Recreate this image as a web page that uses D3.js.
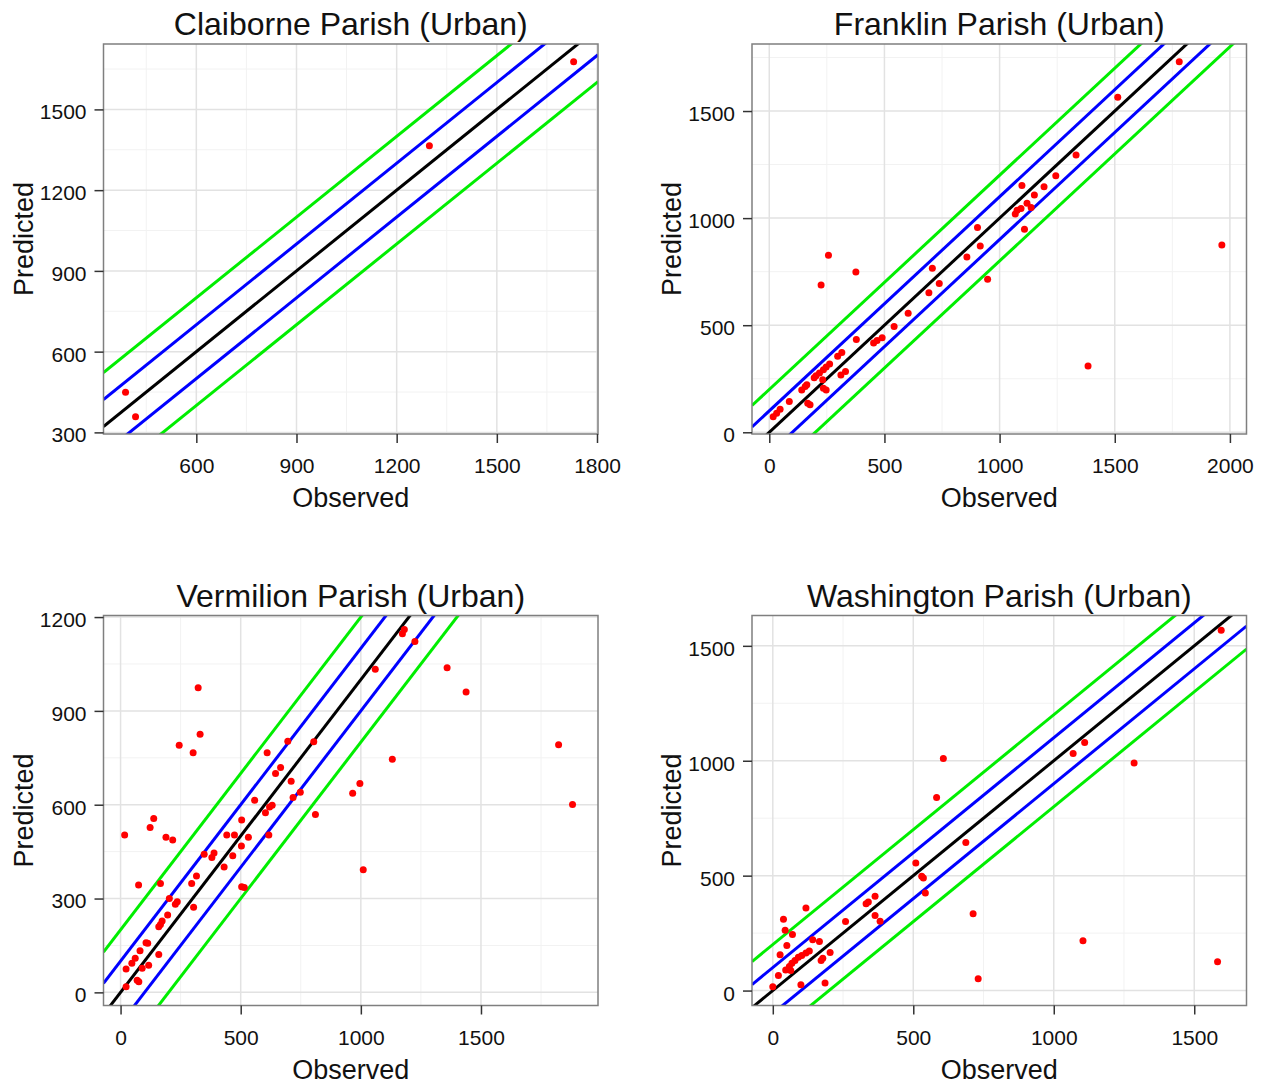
<!DOCTYPE html>
<html>
<head>
<meta charset="utf-8">
<script src="https://cdn.jsdelivr.net/npm/d3@7"></script>
<style>
  body { margin: 0; background: #fff; }
  svg text { font-family: "Liberation Sans", Arial, sans-serif; fill: #111; }
</style>
</head>
<body>
<svg id="chart" width="1268" height="1084"></svg>
<script>
// ---- Observed vs predicted values per parish ----
const claiborneObserved  = [388, 418, 1298, 1730];
const claibornePredicted = [449, 358, 1365, 1677];

const franklinObserved = [257, 225, 376, 378, 453, 468, 490, 542, 603, 693, 708, 738, 948, 858, 904, 916,
  1097, 1068, 1076, 1093, 1119, 1151, 1108, 1137, 315, 297, 311, 331, 262, 247, 235, 218, 203, 195,
  235, 247, 232, 141, 156, 163, 167, 177, 87, 47, 32, 17, 1780, 1513, 1332, 1244, 1193, 1965, 1384];
const franklinPredicted = [827, 688, 748, 433, 417, 428, 441, 494, 556, 652, 766, 695, 714, 819, 956, 870,
  1152, 1019, 1037, 1045, 1070, 1108, 948, 1050, 373, 355, 267, 284, 319, 305, 292, 277, 264, 255,
  206, 198, 245, 198, 214, 222, 136, 128, 144, 108, 89, 73, 1730, 1564, 1295, 1198, 1147, 874, 310];

const vermilionObserved = [323, 331, 244, 302, 610, 696, 804, 645, 666, 710, 748, 718, 811, 558, 603, 631,
  620, 504, 617, 532, 503, 442, 474, 389, 380, 348, 467, 431, 504, 515, 316, 296, 304, 236, 228, 203,
  196, 173, 166, 159, 166, 75, 17, 123, 138, 189, 217, 106, 113, 81, 61, 47, 23, 90, 117, 159, 69, 76, 23,
  1181, 1173, 1225, 1060, 1359, 1438, 1823, 1881, 1131, 996, 966, 1010];
const vermilionPredicted = [974, 825, 790, 766, 766, 803, 801, 700, 719, 675, 640, 623, 569, 614, 574, 598,
  593, 551, 503, 496, 468, 503, 503, 446, 431, 442, 437, 401, 338, 335, 372, 348, 272, 290, 282, 300,
  247, 228, 217, 210, 348, 343, 503, 527, 556, 496, 487, 159, 157, 133, 109, 93, 75, 77, 87, 121, 39, 34, 18,
  1160, 1147, 1122, 1033, 1038, 960, 792, 601, 745, 668, 637, 392];

const washingtonObserved = [607, 583, 687, 509, 530, 536, 543, 713, 731, 364, 340, 332, 364, 382, 259, 118,
  38, 44, 70, 50, 26, 142, 166, 204, 178, 172, 130, 118, 103, 91, 79, 68, 59, 46, 64, 20, 0, 100, 186,
  1596, 1069, 1110, 1286, 1104, 1583];
const washingtonPredicted = [1010, 840, 644, 555, 497, 490, 424, 334, 51, 410, 385, 378, 327, 302, 301, 359,
  310, 262, 244, 196, 156, 221, 214, 166, 141, 131, 172, 163, 153, 145, 131, 119, 105, 90, 87, 65, 17, 25, 33,
  1568, 1031, 1079, 990, 217, 125];

// ---- Axis limits and tick labels ----
const claiborneXLimits = [322, 1803],  claiborneYLimits = [294, 1743];
const franklinXLimits  = [-75, 2072],  franklinYLimits  = [-8, 1813];
const vermilionXLimits = [-71, 1987],  vermilionYLimits = [-42, 1205];
const washingtonXLimits = [-74, 1686], washingtonYLimits = [-65, 1632];

const claiborneXTicks  = [600, 900, 1200, 1500, 1800];
const claiborneYTicks  = [300, 600, 900, 1200, 1500];
const franklinXTicks   = [0, 500, 1000, 1500, 2000];
const franklinYTicks   = [0, 500, 1000, 1500];
const vermilionXTicks  = [0, 500, 1000, 1500];
const vermilionYTicks  = [0, 300, 600, 900, 1200];
const washingtonXTicks = [0, 500, 1000, 1500];
const washingtonYTicks = [0, 500, 1000, 1500];

// Reference lines: 1:1 line and +/-100, +/-200 bands
const bandOffsets = [-200, -100, 0, 100, 200];
const bandColors  = { "-200": "#00ee00", "-100": "#0000ff", "0": "#000000", "100": "#0000ff", "200": "#00ee00" };

const panels = [
  { title: "Claiborne Parish (Urban)", obs: claiborneObserved, pred: claibornePredicted,
    xLim: claiborneXLimits, yLim: claiborneYLimits, xTicks: claiborneXTicks, yTicks: claiborneYTicks,
    box: { left: 103.5, right: 598, top: 44, bottom: 434 }, yTitleX: 33 },
  { title: "Franklin Parish (Urban)", obs: franklinObserved, pred: franklinPredicted,
    xLim: franklinXLimits, yLim: franklinYLimits, xTicks: franklinXTicks, yTicks: franklinYTicks,
    box: { left: 752, right: 1246.5, top: 44, bottom: 434 }, yTitleX: 681 },
  { title: "Vermilion Parish (Urban)", obs: vermilionObserved, pred: vermilionPredicted,
    xLim: vermilionXLimits, yLim: vermilionYLimits, xTicks: vermilionXTicks, yTicks: vermilionYTicks,
    box: { left: 103.5, right: 598, top: 615.5, bottom: 1005.5 }, yTitleX: 33 },
  { title: "Washington Parish (Urban)", obs: washingtonObserved, pred: washingtonPredicted,
    xLim: washingtonXLimits, yLim: washingtonYLimits, xTicks: washingtonXTicks, yTicks: washingtonYTicks,
    box: { left: 752, right: 1246.5, top: 615.5, bottom: 1005.5 }, yTitleX: 681 }
];

const svg = d3.select("#chart");
const plain = d3.format("d");

// Midpoints between major breaks (plus half a step beyond each end) inside the limits
function minorBreaks(ticks, lim) {
  const step = ticks[1] - ticks[0];
  const out = [];
  for (let v = ticks[0] - step / 2; v <= lim[1]; v += step) {
    if (v >= lim[0]) out.push(v);
  }
  return out;
}

panels.forEach((p, i) => {
  const b = p.box;
  const x = d3.scaleLinear().domain(p.xLim).range([b.left, b.right]);
  const y = d3.scaleLinear().domain(p.yLim).range([b.bottom, b.top]);
  const g = svg.append("g");

  // panel background
  g.append("rect").attr("x", b.left).attr("y", b.top)
    .attr("width", b.right - b.left).attr("height", b.bottom - b.top).attr("fill", "#fff");

  // grid: minor first, then major
  const grid = g.append("g");
  grid.selectAll(".vminor").data(minorBreaks(p.xTicks, p.xLim)).join("line")
    .attr("x1", d => x(d)).attr("x2", d => x(d)).attr("y1", b.top).attr("y2", b.bottom)
    .attr("stroke", "#f2f2f2").attr("stroke-width", 1);
  grid.selectAll(".hminor").data(minorBreaks(p.yTicks, p.yLim)).join("line")
    .attr("y1", d => y(d)).attr("y2", d => y(d)).attr("x1", b.left).attr("x2", b.right)
    .attr("stroke", "#f2f2f2").attr("stroke-width", 1);
  grid.selectAll(".vmajor").data(p.xTicks.filter(t => t >= p.xLim[0] && t <= p.xLim[1])).join("line")
    .attr("x1", d => x(d)).attr("x2", d => x(d)).attr("y1", b.top).attr("y2", b.bottom)
    .attr("stroke", "#e2e2e2").attr("stroke-width", 1.5);
  grid.selectAll(".hmajor").data(p.yTicks.filter(t => t >= p.yLim[0] && t <= p.yLim[1])).join("line")
    .attr("y1", d => y(d)).attr("y2", d => y(d)).attr("x1", b.left).attr("x2", b.right)
    .attr("stroke", "#e2e2e2").attr("stroke-width", 1.5);

  // clip region for the reference lines
  const clipId = "clip" + i;
  svg.append("clipPath").attr("id", clipId).append("rect")
    .attr("x", b.left).attr("y", b.top).attr("width", b.right - b.left).attr("height", b.bottom - b.top);

  const line = d3.line().x(d => x(d[0])).y(d => y(d[1]));
  g.append("g").attr("clip-path", `url(#${clipId})`)
    .selectAll("path").data(bandOffsets).join("path")
    .attr("d", off => line([[p.xLim[0], p.xLim[0] + off], [p.xLim[1], p.xLim[1] + off]]))
    .attr("fill", "none").attr("stroke", off => bandColors[off]).attr("stroke-width", 3);

  // observations
  g.append("g").attr("clip-path", `url(#${clipId})`)
    .selectAll("circle").data(p.obs.map((o, k) => [o, p.pred[k]])).join("circle")
    .attr("cx", d => x(d[0])).attr("cy", d => y(d[1])).attr("r", 3.5).attr("fill", "#ff0000");

  // panel border
  g.append("rect").attr("x", b.left).attr("y", b.top)
    .attr("width", b.right - b.left).attr("height", b.bottom - b.top)
    .attr("fill", "none").attr("stroke", "#7f7f7f").attr("stroke-width", 1.5);

  // axes
  const xAxis = g.append("g").attr("transform", `translate(0,${b.bottom})`)
    .call(d3.axisBottom(x).tickValues(p.xTicks).tickFormat(plain).tickSize(9).tickSizeOuter(0));
  xAxis.select(".domain").remove();
  xAxis.selectAll(".tick line").attr("stroke", "#333").attr("stroke-width", 1.5);
  xAxis.selectAll(".tick text").attr("y", 39).attr("dy", null)
    .style("font-size", "21px").attr("fill", "#111");

  const yAxis = g.append("g").attr("transform", `translate(${b.left},0)`)
    .call(d3.axisLeft(y).tickValues(p.yTicks).tickFormat(plain).tickSize(9).tickSizeOuter(0));
  yAxis.select(".domain").remove();
  yAxis.selectAll(".tick line").attr("stroke", "#333").attr("stroke-width", 1.5);
  yAxis.selectAll(".tick text").attr("x", -17).attr("dy", "0.45em")
    .style("font-size", "21px").attr("fill", "#111");

  // titles
  const cx = (b.left + b.right) / 2, cy = (b.top + b.bottom) / 2;
  g.append("text").attr("x", cx).attr("y", b.top - 9).attr("text-anchor", "middle")
    .style("font-size", "32px").text(p.title);
  g.append("text").attr("x", cx).attr("y", b.bottom + 73).attr("text-anchor", "middle")
    .style("font-size", "27px").text("Observed");
  g.append("text").attr("transform", `translate(${p.yTitleX},${cy}) rotate(-90)`)
    .attr("text-anchor", "middle").style("font-size", "27px").text("Predicted");
});
</script>
</body>
</html>
